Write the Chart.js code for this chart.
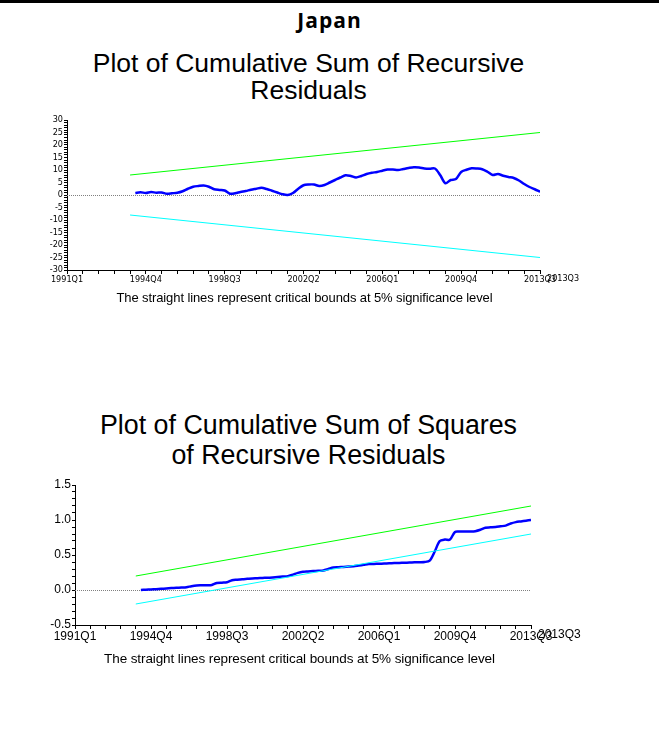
<!DOCTYPE html>
<html>
<head>
<meta charset="utf-8">
<script src="https://cdn.jsdelivr.net/npm/chart.js@4.4.1/dist/chart.umd.min.js"></script>
<style>
  body { margin: 0; background: #fff; width: 659px; height: 754px; position: relative; overflow: hidden;
         font-family: "Liberation Sans", Arial, sans-serif; }
  .topline { position: absolute; left: 0; top: 0; width: 659px; height: 3px; background: #000; }
  .txt { position: absolute; left: 0; width: 659px; text-align: center; color: #000; white-space: nowrap; }
  canvas { position: absolute; left: 0; }
</style>
</head>
<body>
<div class="topline"></div>
<div class="txt" style="top:6px; left:0; font: bold 21px 'Open Sans', sans-serif; letter-spacing:1px;">Japan</div>
<div class="txt" style="top:50px; left:-21px; font-size:26.5px; line-height:27px;">Plot of Cumulative Sum of Recursive<br>Residuals</div>
<canvas id="cusum" width="659" height="190" style="top:105px"></canvas>
<div class="txt" style="top:290px; left:-25px; font-size:13px; letter-spacing:-0.1px;">The straight lines represent critical bounds at 5% significance level</div>

<div class="txt" style="top:410px; left:-21px; font-size:26.8px; line-height:30px;">Plot of Cumulative Sum of Squares<br>of Recursive Residuals</div>
<canvas id="cusumsq" width="659" height="185" style="top:470px"></canvas>
<div class="txt" style="top:651px; left:-30px; font-size:13.5px; letter-spacing:-0.1px;">The straight lines represent critical bounds at 5% significance level</div>

<script>
// quarter index 0 = 1991Q1, 90 = 2013Q3
const tickLabels = ['1991Q1', '1994Q4', '1998Q3', '2002Q2', '2006Q1', '2009Q4', '2013Q3'];
const endLabel = '2013Q3';
const lastIdx = 90;
const boundStart = 12;   // critical bounds start here
const seriesStart = 13;  // recursive residual series start here

// CUSUM of recursive residuals, 1994Q2 .. 2013Q3
const cusum = [
  0.8, 1.1, 0.8, 1.2, 0.9, 1.0, 0.5, 0.7, 0.9, 1.5,
  2.5, 3.3, 3.6, 3.8, 3.3, 2.3, 2.0, 1.8, 0.5, 0.7,
  1.2, 1.6, 2.1, 2.5, 2.9, 2.4, 1.7, 1.0, 0.3, 0.0,
  0.8, 2.5, 3.9, 4.2, 4.2, 3.6, 4.0, 5.0, 6.0, 7.0,
  7.9, 7.6, 7.0, 7.6, 8.4, 8.9, 9.2, 9.7, 10.2, 10.2,
  10.0, 10.4, 10.8, 11.1, 11.0, 10.6, 10.5, 10.6, 8.0, 4.7,
  6.0, 6.4, 9.2, 10.1, 10.7, 10.6, 10.3, 9.3, 8.0, 8.4,
  7.7, 7.2, 6.8, 5.8, 4.4, 3.2, 2.3, 1.3
];
const cusumUpper = [8, 25];
const cusumLower = [-8, -25];

// CUSUM of squares of recursive residuals, 1994Q2 .. 2013Q3
const cusumSq = [
  0.0, 0.004, 0.008, 0.012, 0.017, 0.022, 0.027, 0.031, 0.035, 0.04,
  0.055, 0.065, 0.067, 0.069, 0.072, 0.10, 0.105, 0.11, 0.14, 0.148,
  0.155, 0.16, 0.165, 0.168, 0.172, 0.175, 0.18, 0.186, 0.192, 0.198,
  0.22, 0.245, 0.26, 0.265, 0.27, 0.275, 0.28, 0.30, 0.32, 0.325,
  0.33, 0.335, 0.34, 0.35, 0.36, 0.37, 0.372, 0.375, 0.378, 0.381,
  0.384, 0.387, 0.39, 0.392, 0.395, 0.397, 0.40, 0.42, 0.55, 0.70,
  0.72, 0.72, 0.83, 0.835, 0.835, 0.835, 0.84, 0.86, 0.89, 0.895,
  0.90, 0.91, 0.92, 0.95, 0.97, 0.98, 0.99, 1.0
];
const sqUpper = [0.2, 1.2];
const sqLower = [-0.2, 0.8];

function toPoints(vals, start) {
  return vals.map((v, i) => ({ x: start + i, y: v }));
}
function boundPoints(pair) {
  return [{ x: boundStart, y: pair[0] }, { x: lastIdx, y: pair[1] }];
}

// dotted zero line + the extra overlapping end label
const refPlugin = {
  id: 'ref',
  beforeDatasetsDraw(chart) {
    const { ctx, chartArea, scales } = chart;
    const y = scales.y.getPixelForValue(0);
    ctx.save();
    ctx.strokeStyle = '#808080';
    ctx.lineWidth = 1;
    ctx.setLineDash([1, 1]);
    ctx.beginPath();
    ctx.moveTo(chartArea.left, Math.round(y) + 0.5);
    ctx.lineTo(chartArea.right, Math.round(y) + 0.5);
    ctx.stroke();
    ctx.restore();
  },
  afterDraw(chart, args, opts) {
    const { ctx, chartArea } = chart;
    ctx.save();
    ctx.fillStyle = '#000';
    ctx.font = opts.font;
    ctx.textAlign = 'left';
    ctx.textBaseline = 'top';
    ctx.fillText(endLabel, chartArea.right + 7, chartArea.bottom + opts.dy);
    ctx.restore();
  }
};

function makeChart(id, series, upper, lower, cfg) {
  return new Chart(document.getElementById(id), {
    type: 'line',
    data: {
      datasets: [
        { data: boundPoints(upper), borderColor: '#00ff00', borderWidth: 1, pointRadius: 0 },
        { data: boundPoints(lower), borderColor: '#00ffff', borderWidth: 1, pointRadius: 0 },
        { data: toPoints(series, seriesStart), borderColor: '#0000ff', borderWidth: 2.5,
          pointRadius: 0, tension: 0.3 }
      ]
    },
    options: {
      responsive: false,
      animation: false,
      layout: { padding: { left: 0, right: cfg.padRight, top: 15, bottom: 0 } },
      plugins: {
        legend: { display: false },
        tooltip: { enabled: false },
        ref: { font: cfg.xFont, dy: cfg.xDy }
      },
      scales: {
        x: {
          type: 'linear',
          min: 0,
          max: lastIdx,
          afterBuildTicks: s => {
            const t = [];
            for (let i = 0; i <= lastIdx; i += 3) t.push({ value: i });
            s.ticks = t;
          },
          afterFit: s => { s.height = cfg.xHeight; },
          grid: { drawOnChartArea: false, drawTicks: true, tickLength: 4, color: '#000' },
          border: { display: true, color: '#000', width: 1 },
          ticks: {
            autoSkip: false,
            maxRotation: 0,
            padding: 0,
            color: '#000',
            font: { family: cfg.family, size: cfg.xSize },
            callback: v => (v % 15 === 0 ? tickLabels[v / 15] : '')
          }
        },
        y: {
          min: cfg.yMin,
          max: cfg.yMax,
          afterBuildTicks: s => {
            const t = [];
            for (let i = cfg.yMin / cfg.yStep; i <= cfg.yMax / cfg.yStep; i++) t.push({ value: i * cfg.yStep });
            s.ticks = t;
          },
          afterFit: s => { s.width = cfg.yWidth; },
          grid: { drawOnChartArea: false, drawTicks: true, tickLength: 3, color: '#000' },
          border: { display: true, color: '#000', width: 1 },
          ticks: {
            autoSkip: false,
            padding: 1,
            color: '#000',
            font: { family: cfg.family, size: cfg.ySize },
            callback: v => {
              const k = Math.round(v / cfg.yStep);
              return k % cfg.labelEvery === 0 ? cfg.fmt(v) : '';
            }
          }
        }
      }
    },
    plugins: [refPlugin]
  });
}

makeChart('cusum', cusum, cusumUpper, cusumLower, {
  padRight: 119, xHeight: 25, yWidth: 67,
  yMin: -30, yMax: 30, yStep: 1, labelEvery: 5,
  fmt: v => String(Math.round(v)),
  family: "'Liberation Sans Narrow', 'DejaVu Sans Condensed', 'Liberation Sans', sans-serif",
  xSize: 9, ySize: 9, xFont: "9px 'Liberation Sans Narrow', 'DejaVu Sans Condensed', sans-serif", xDy: 4
});

makeChart('cusumsq', cusumSq, sqUpper, sqLower, {
  padRight: 128, xHeight: 30, yWidth: 75,
  yMin: -0.5, yMax: 1.5, yStep: 0.1, labelEvery: 5,
  fmt: v => v.toFixed(1),
  family: "'Liberation Sans', Arial, sans-serif",
  xSize: 12, ySize: 12, xFont: "12px 'Liberation Sans', Arial, sans-serif", xDy: 4
});
</script>
</body>
</html>
